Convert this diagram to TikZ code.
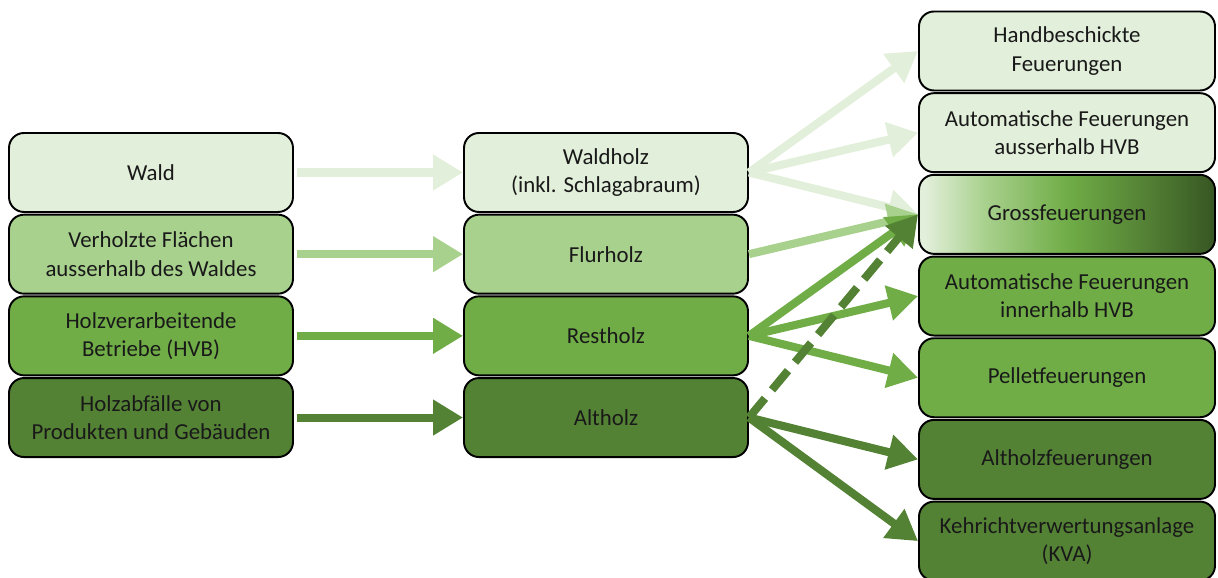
\documentclass[tikz,border=0pt]{standalone}
\usepackage{fontspec}
\setmainfont{Carlito}
\usepackage{tikz}
\usetikzlibrary{positioning}
\usetikzlibrary{arrows.meta}
\definecolor{paleGreen}{HTML}{E2EFDA}
\definecolor{lightGreen}{HTML}{A9D18E}
\definecolor{midGreen}{HTML}{70AD47}
\definecolor{darkGreen}{HTML}{548235}
\definecolor{deepGreen}{HTML}{375623}
\pgfdeclarehorizontalshading{grossfade}{100bp}{color(0bp)=(paleGreen); color(26bp)=(paleGreen); color(36bp)=(lightGreen); color(50bp)=(midGreen); color(63bp)=(darkGreen); color(75bp)=(deepGreen); color(100bp)=(deepGreen)}

\begin{document}
\begin{tikzpicture}[node distance={0.015cm}, main/.style = {draw, rounded corners=0.3cm, line width=1.1pt, minimum height=1.58cm, align=center, font=\fontsize{13}{16}\selectfont, text=black!90}, box/.style = {main, minimum width=5.68cm}, tgt/.style = {main, minimum width=5.92cm}, flow/.style = {line width=4.6pt, -{Triangle[length=0.6cm, width=0.68cm]}}]
            \useasboundingbox (0,0) rectangle (24.36,-11.56);
            % Nodes
            \node[box, fill=paleGreen] (wald) at (3.02,-3.45) {Wald};
            \node[box, fill=lightGreen] (verholzt) [below=of wald] {Verholzte Flächen\\ausserhalb des Waldes};
            \node[box, fill=midGreen] (hvb) [below=of verholzt] {Holzverarbeitende\\Betriebe (HVB)};
            \node[box, fill=darkGreen] (abfall) [below=of hvb] {Holzabfälle von\\Produkten und Gebäuden};
            \node[box, fill=paleGreen] (waldholz) at (12.12,-3.45) {Waldholz\\(inkl. Schlagabraum)};
            \node[box, fill=lightGreen] (flurholz) [below=of waldholz] {Flurholz};
            \node[box, fill=midGreen] (restholz) [below=of flurholz] {Restholz};
            \node[box, fill=darkGreen] (altholz) [below=of restholz] {Altholz};
            \node[tgt, fill=paleGreen] (hand) at (21.34,-1.02) {Handbeschickte\\Feuerungen};
            \node[tgt, fill=paleGreen] (autoaus) [below=of hand] {Automatische Feuerungen\\ausserhalb HVB};
            \node[tgt, shading=grossfade] (gross) [below=of autoaus] {Grossfeuerungen};
            \node[tgt, fill=midGreen] (autoin) [below=of gross] {Automatische Feuerungen\\innerhalb HVB};
            \node[tgt, fill=midGreen] (pellet) [below=of autoin] {Pelletfeuerungen};
            \node[tgt, fill=darkGreen] (altfeu) [below=of pellet] {Altholzfeuerungen};
            \node[tgt, fill=darkGreen] (kva) [below=of altfeu] {Kehrichtverwertungsanlage\\(KVA)};
            % Edges
            \draw[flow, paleGreen, shorten <=2pt] (wald) -- (waldholz);
            \draw[flow, lightGreen, shorten <=2pt] (verholzt) -- (flurholz);
            \draw[flow, midGreen, shorten <=2pt] (hvb) -- (restholz);
            \draw[flow, darkGreen, shorten <=2pt] (abfall) -- (altholz);
            \draw[flow, paleGreen] (waldholz.east) -- (hand.west);
            \draw[flow, paleGreen] (waldholz.east) -- (autoaus.west);
            \draw[flow, paleGreen] (waldholz.east) -- (gross.west);
            \draw[flow, lightGreen] (flurholz.east) -- (gross.west);
            \draw[flow, midGreen] (restholz.east) -- (gross.west);
            \draw[flow, midGreen] (restholz.east) -- (autoin.west);
            \draw[flow, midGreen] (restholz.east) -- (pellet.west);
            \draw[flow, darkGreen, dash pattern=on 0.5cm off 0.22cm] (altholz.east) -- (gross.west);
            \draw[flow, darkGreen] (altholz.east) -- (altfeu.west);
            \draw[flow, darkGreen] (altholz.east) -- (kva.west);
            \end{tikzpicture}
\end{document}
